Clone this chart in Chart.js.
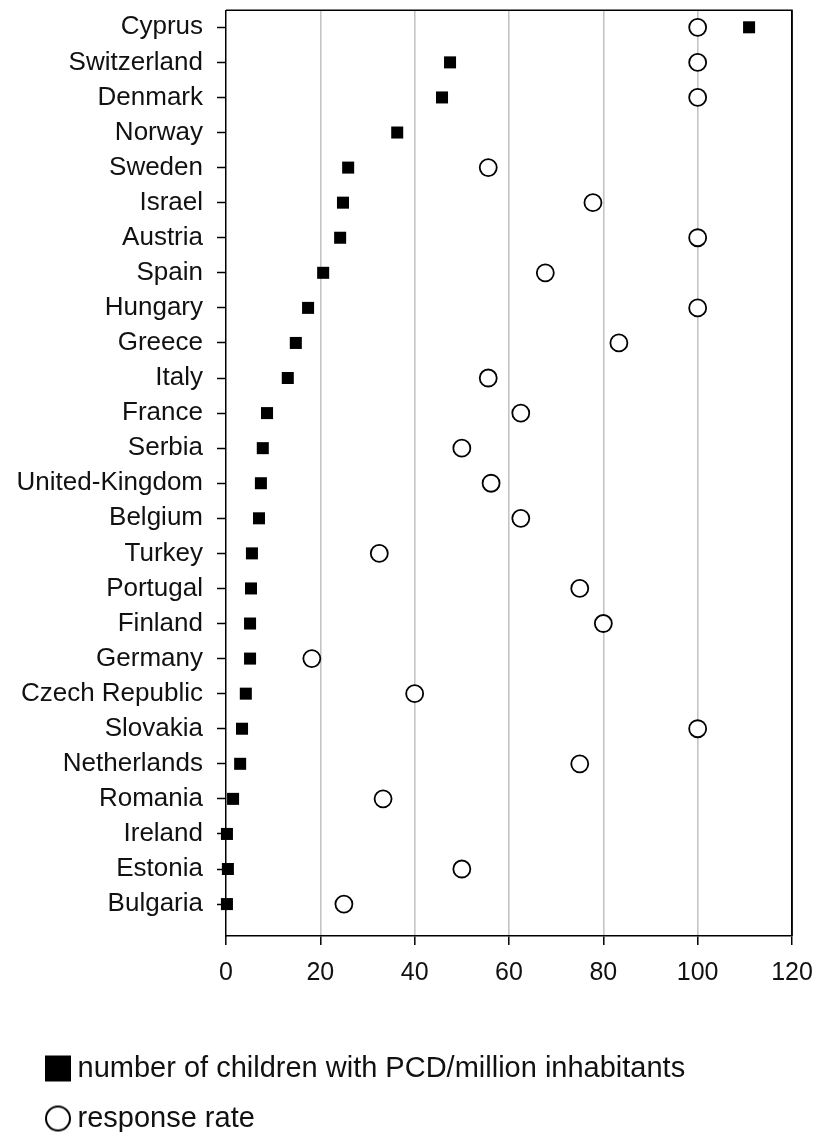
<!DOCTYPE html>
<html>
<head>
<meta charset="utf-8">
<script src="https://cdn.jsdelivr.net/npm/chart.js@4/dist/chart.umd.min.js"></script>
<style>
  html, body { margin: 0; padding: 0; background: #fff; overflow: hidden; }
  #wrap { width: 817px; height: 1132px; }
</style>
</head>
<body>
<div id="wrap"><canvas id="chart" width="817" height="1132"></canvas></div>
<script>
// Countries, top to bottom
const countries = [
  'Cyprus', 'Switzerland', 'Denmark', 'Norway', 'Sweden', 'Israel', 'Austria',
  'Spain', 'Hungary', 'Greece', 'Italy', 'France', 'Serbia', 'United-Kingdom',
  'Belgium', 'Turkey', 'Portugal', 'Finland', 'Germany', 'Czech Republic',
  'Slovakia', 'Netherlands', 'Romania', 'Ireland', 'Estonia', 'Bulgaria'
];

// Number of children with PCD per million inhabitants
const pcdPerMillion = [
  110.9, 47.5, 45.8, 36.3, 25.9, 24.8, 24.2,
  20.6, 17.4, 14.8, 13.1, 8.7, 7.8, 7.4,
  7.0, 5.5, 5.3, 5.1, 5.1, 4.2,
  3.4, 3.0, 1.5, 0.2, 0.4, 0.2
];

// Response rate (%); null where no rate is shown
const responseRate = [
  100, 100, 100, null, 55.6, 77.8, 100,
  67.7, 100, 83.3, 55.6, 62.5, 50, 56.2,
  62.5, 32.5, 75, 80, 18.2, 40,
  100, 75, 33.3, null, 50, 25
];

const xTicks = [0, 20, 40, 60, 80, 100, 120];

const legendLabels = [
  'number of children with PCD/million inhabitants',
  'response rate'
];

const toPoints = (vals) => vals
  .map((v, i) => (v === null ? null : { x: v, y: i }))
  .filter(p => p !== null);

// Legend markers: the symbol sits in the right part of a wider transparent canvas
function marker(kind) {
  const c = document.createElement('canvas');
  c.width = 60; c.height = 28;
  const g = c.getContext('2d');
  if (kind === 'square') {
    g.fillStyle = '#000';
    g.fillRect(33, 1, 26, 26);
  } else {
    g.strokeStyle = '#000';
    g.lineWidth = 2;
    g.beginPath();
    g.arc(46, 14, 12, 0, Math.PI * 2);
    g.stroke();
  }
  return c;
}
const legendMarkers = [marker('square'), marker('circle')];

// Top and right edges of the plot frame
const framePlugin = {
  id: 'frame',
  afterDraw(chart) {
    const { ctx, chartArea: a } = chart;
    ctx.save();
    ctx.strokeStyle = '#000';
    ctx.lineWidth = 1.5;
    ctx.beginPath();
    ctx.moveTo(a.left, a.top);
    ctx.lineTo(a.right, a.top);
    ctx.lineTo(a.right, a.bottom);
    ctx.stroke();
    ctx.restore();
  }
};

const FONT = "'Liberation Sans', Arial, sans-serif";

new Chart(document.getElementById('chart'), {
  type: 'scatter',
  data: {
    datasets: [
      {
        label: legendLabels[0],
        data: toPoints(pcdPerMillion),
        pointStyle: 'rect',
        pointRadius: 8.5,
        pointHoverRadius: 8.5,
        backgroundColor: '#000',
        borderColor: '#000',
        borderWidth: 0,
        clip: false
      },
      {
        label: legendLabels[1],
        data: toPoints(responseRate),
        pointStyle: 'circle',
        pointRadius: 8.5,
        pointHoverRadius: 8.5,
        backgroundColor: '#fff',
        borderColor: '#000',
        borderWidth: 1.8,
        clip: false
      }
    ]
  },
  options: {
    responsive: false,
    animation: false,
    events: [],
    layout: { padding: { left: 0, right: 25, top: 10, bottom: -11 } },
    plugins: {
      tooltip: { enabled: false },
      legend: {
        display: true,
        position: 'bottom',
        align: 'start',
        labels: {
          usePointStyle: true,
          pointStyleWidth: 42,
          boxWidth: 42,
          padding: 21,
          color: '#111',
          font: { family: FONT, size: 29 },
          generateLabels: (chart) => chart.data.datasets.map((ds, i) => ({
            text: ds.label,
            pointStyle: legendMarkers[i],
            datasetIndex: i,
            fontColor: '#111',
            lineWidth: 0,
            hidden: false
          }))
        }
      }
    },
    scales: {
      x: {
        type: 'linear',
        min: 0,
        max: 120,
        afterBuildTicks: (scale) => { scale.ticks = xTicks.map(v => ({ value: v })); },
        afterFit: (scale) => {
          scale.height = 97;
          scale.paddingLeft = 0;
          scale.paddingRight = 0;
        },
        ticks: {
          color: '#111',
          font: { family: FONT, size: 25 },
          padding: 13,
          maxRotation: 0
        },
        grid: {
          drawOnChartArea: true,
          color: (c) => {
            const v = c.tick ? c.tick.value : null;
            if (v === 0) return 'rgba(0,0,0,0)';
            if (v === 120) return '#000';
            return '#c4c4c4';
          },
          lineWidth: (c) => (c.tick && c.tick.value === 120 ? 1.5 : 1.6),
          tickColor: '#000',
          tickLength: 9,
          tickWidth: 1.5
        },
        border: { display: true, color: '#000', width: 1.5 }
      },
      y: {
        type: 'linear',
        reverse: true,
        min: -0.485,
        max: 25.91,
        afterBuildTicks: (scale) => { scale.ticks = countries.map((_, i) => ({ value: i })); },
        afterFit: (scale) => {
          scale.width = 226;
          scale.paddingTop = 0;
          scale.paddingBottom = 0;
        },
        ticks: {
          color: '#111',
          font: { family: FONT, size: 26 },
          padding: 14,
          autoSkip: false,
          callback: (value) => countries[value]
        },
        grid: {
          drawOnChartArea: false,
          tickColor: '#000',
          tickLength: 9,
          tickWidth: 1.5
        },
        border: { display: true, color: '#000', width: 1.5 }
      }
    }
  },
  plugins: [framePlugin]
});
</script>
</body>
</html>
